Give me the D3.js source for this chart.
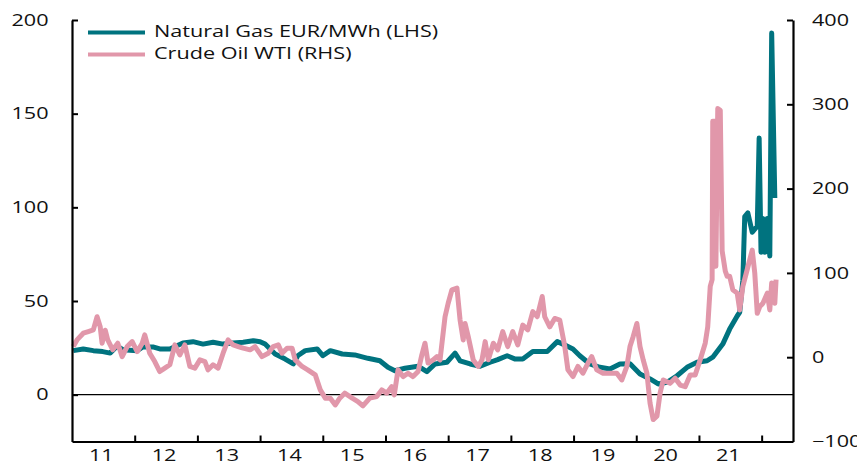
<!DOCTYPE html>
<html>
<head>
<meta charset="utf-8">
<script src="https://cdn.jsdelivr.net/npm/d3@7"></script>
<style>
  body { margin: 0; background: #fff; }
  svg text { font-family: "Open Sans", "Noto Sans", sans-serif; fill: #111; }
</style>
</head>
<body>
<div id="chart"></div>
<script>
// natural gas, EUR/MWh (left axis), time as decimal year
var gasYears = [2011.02, 2011.18, 2011.34, 2011.49, 2011.61, 2011.72, 2011.81, 2012.04, 2012.13, 2012.29,
  2012.40, 2012.56, 2012.77, 2012.93, 2013.09, 2013.25, 2013.41, 2013.57, 2013.73, 2013.89,
  2014.00, 2014.08, 2014.24, 2014.40, 2014.53, 2014.60, 2014.72, 2014.91, 2015.00, 2015.12,
  2015.31, 2015.51, 2015.72, 2015.91, 2016.04, 2016.15, 2016.31, 2016.52, 2016.66, 2016.79,
  2016.98, 2017.11, 2017.19, 2017.35, 2017.51, 2017.67, 2017.79, 2017.94, 2018.07, 2018.19,
  2018.35, 2018.58, 2018.74, 2018.83, 2018.99, 2019.10, 2019.26, 2019.42, 2019.58, 2019.74,
  2019.90, 2020.06, 2020.22, 2020.35, 2020.49, 2020.65, 2020.81, 2020.97, 2021.13, 2021.22,
  2021.38, 2021.49, 2021.61, 2021.65, 2021.70, 2021.73, 2021.78, 2021.85, 2021.93, 2021.96,
  2021.99, 2022.02, 2022.05, 2022.09, 2022.13, 2022.16, 2022.21];
var gasValues = [23.5, 24.4, 23.5, 23, 22.2, 26, 24, 23.5, 25.5, 25.5,
  24.4, 24.4, 27.6, 28.3, 27, 28, 27, 27.6, 28, 28.8,
  28.3, 27, 21.7, 19, 16.4, 20.8, 23.5, 24.4, 20.8, 23.5,
  21.7, 21.2, 19.4, 18.1, 14.6, 12.8, 14.1, 15.2, 12.3, 16.4,
  17.3, 22.2, 18.1, 16.4, 15.2, 17.3, 18.7, 20.8, 19, 19,
  23, 23, 28.3, 27, 24.4, 20.8, 16.4, 14.6, 13.7, 16.4,
  16.5, 11, 8.4, 5.7, 6.6, 10.1, 14.6, 17.3, 18.1, 20,
  27, 35, 42, 44, 61, 95, 97, 86.7, 90, 137,
  76, 94, 76, 94, 74, 193, 105];

// crude oil WTI (right axis)
var oilYears = [2011.02, 2011.08, 2011.18, 2011.26, 2011.34, 2011.40, 2011.45, 2011.48, 2011.53, 2011.57,
  2011.65, 2011.73, 2011.80, 2011.88, 2011.96, 2012.04, 2012.12, 2012.16, 2012.24, 2012.32,
  2012.40, 2012.48, 2012.56, 2012.64, 2012.72, 2012.80, 2012.88, 2012.96, 2013.04, 2013.12,
  2013.17, 2013.25, 2013.33, 2013.41, 2013.49, 2013.57, 2013.65, 2013.73, 2013.84, 2013.92,
  2014.03, 2014.13, 2014.21, 2014.29, 2014.35, 2014.43, 2014.51, 2014.56, 2014.67, 2014.76,
  2014.88, 2014.96, 2015.04, 2015.12, 2015.20, 2015.27, 2015.35, 2015.47, 2015.56, 2015.64,
  2015.75, 2015.86, 2015.94, 2016.02, 2016.10, 2016.14, 2016.20, 2016.28, 2016.36, 2016.44,
  2016.52, 2016.58, 2016.63, 2016.68, 2016.76, 2016.82, 2016.87, 2016.95, 2017.00, 2017.06,
  2017.14, 2017.19, 2017.24, 2017.27, 2017.32, 2017.40, 2017.48, 2017.54, 2017.59, 2017.64,
  2017.72, 2017.79, 2017.87, 2017.95, 2018.03, 2018.11, 2018.19, 2018.27, 2018.35, 2018.42,
  2018.50, 2018.54, 2018.62, 2018.70, 2018.78, 2018.86, 2018.91, 2018.99, 2019.07, 2019.15,
  2019.23, 2019.29, 2019.37, 2019.47, 2019.58, 2019.69, 2019.77, 2019.85, 2019.90, 2019.95,
  2020.01, 2020.06, 2020.11, 2020.17, 2020.22, 2020.27, 2020.33, 2020.38, 2020.43, 2020.54,
  2020.62, 2020.70, 2020.78, 2020.86, 2020.94, 2021.02, 2021.10, 2021.14, 2021.18, 2021.21,
  2021.22, 2021.26, 2021.27, 2021.30, 2021.34, 2021.37, 2021.42, 2021.45, 2021.49, 2021.54,
  2021.61, 2021.65, 2021.70, 2021.78, 2021.85, 2021.89, 2021.93, 2021.97, 2022.02, 2022.09,
  2022.13, 2022.16, 2022.21, 2022.23];
var oilValues = [12.6, 20.5, 28.5, 30.4, 32.4, 48, 36, 16.6, 32, 20.5,
  8.7, 16.6, 0.7, 12.6, 18.5, 6.6, 16.6, 26.5, 4.7, -5.2,
  -17, -13, -9, 14.6, 2.7, 14.6, -11, -13, -3.2, -5.2,
  -15, -9, -13, 4.7, 20.5, 14.6, 12.6, 10.7, 8.7, 12.6,
  0.7, 4.7, 12.6, 14.6, 4.7, 10.7, 10.7, -3.2, -11, -15,
  -21, -38.8, -48.6, -48.6, -56.6, -48.6, -42.7, -48.6, -52.6, -57.8,
  -48.6, -46.7, -38.8, -42.7, -34.9, -44.7, -15, -23, -19, -23,
  -17, 2.7, 16.6, -7, -3.2, 0.7, -3.2, 48, 64, 80,
  82, 44, 20.5, 40, 24.4, -3.2, -11, -3, 18.5, -3,
  16.6, 8.7, 30.4, 12.6, 30.4, 14.6, 38, 32.4, 54, 48,
  72, 48, 36, 46, 44, 12.6, -15, -23, -11, -19,
  -7, 0.7, -15, -19, -19, -19, -27, -11, 12.6, 24.4,
  40, 12.6, -3, -19, -54.6, -74, -70, -42.7, -27, -31,
  -25, -33, -35, -21, -21, -3, 16.6, 36, 84, 92,
  280, 280, 108, 295, 293, 126, 102, 96, 96, 80,
  76, 56, 84, 107, 127, 100, 52, 60, 64, 76,
  56, 88, 64, 92];

var leftTicks = [0, 50, 100, 150, 200];
var rightTicks = [-100, 0, 100, 200, 300, 400];
var yearLabels = ['11', '12', '13', '14', '15', '16', '17', '18', '19', '20', '21'];
var seriesNames = ['Natural Gas EUR/MWh (LHS)', 'Crude Oil WTI (RHS)'];
var seriesColors = ['#00737f', '#e197aa'];

var width = 857, height = 471;
var plotLeft = 72, plotRight = 793, plotTop = 20, plotBottom = 441.5;
var stretch = 1.32; // the original text is drawn wide

var svg = d3.select('#chart').append('svg')
  .attr('width', width)
  .attr('height', height);

var x = d3.scaleLinear().domain([2011, 2022.5]).range([plotLeft, plotRight]);
var yLeft = d3.scaleLinear().domain([-25, 200]).range([plotBottom, plotTop]);
var yRight = d3.scaleLinear().domain([-100, 400]).range([plotBottom, plotTop]);

function widen(sel) {
  sel.selectAll('text')
    .style('font-size', '16.4px')
    .attr('transform', 'scale(' + stretch + ',1)');
}

// zero line
svg.append('line')
  .attr('x1', plotLeft).attr('x2', plotRight)
  .attr('y1', yLeft(0)).attr('y2', yLeft(0))
  .attr('stroke', '#000')
  .attr('stroke-width', 1.2);

// series
var gasData = gasYears.map(function(t, i) { return [t, gasValues[i]]; });
var oilData = oilYears.map(function(t, i) { return [t, oilValues[i]]; });

svg.append('path')
  .datum(gasData)
  .attr('fill', 'none')
  .attr('stroke', seriesColors[0])
  .attr('stroke-width', 5)
  .attr('stroke-linejoin', 'round')
  .attr('d', d3.line().x(function(d) { return x(d[0]); }).y(function(d) { return yLeft(d[1]); }));

svg.append('path')
  .datum(oilData)
  .attr('fill', 'none')
  .attr('stroke', seriesColors[1])
  .attr('stroke-width', 5)
  .attr('stroke-linejoin', 'round')
  .attr('d', d3.line().x(function(d) { return x(d[0]); }).y(function(d) { return yRight(d[1]); }));

// axes
var leftAxis = svg.append('g')
  .attr('transform', 'translate(' + plotLeft + ',0)')
  .call(d3.axisLeft(yLeft).tickValues(leftTicks).tickSizeInner(-6).tickSizeOuter(0).tickPadding(17.8));
widen(leftAxis);

var rightAxis = svg.append('g')
  .attr('transform', 'translate(' + plotRight + ',0)')
  .call(d3.axisRight(yRight).tickValues(rightTicks).tickSizeInner(-6).tickSizeOuter(0).tickPadding(14.4));
widen(rightAxis);

var yearTicks = d3.range(2012, 2023);
svg.append('g')
  .attr('transform', 'translate(0,' + plotBottom + ')')
  .call(d3.axisBottom(x).tickValues(yearTicks).tickSizeInner(-6).tickSizeOuter(0).tickFormat(''));

var labelAxis = svg.append('g')
  .attr('transform', 'translate(0,' + plotBottom + ')')
  .call(d3.axisBottom(x).tickValues(d3.range(2011.46, 2022, 1)).tickSize(0).tickPadding(8)
    .tickFormat(function(d, i) { return yearLabels[i]; }));
labelAxis.select('.domain').remove();
widen(labelAxis);

svg.selectAll('.domain').attr('stroke', '#000').attr('stroke-width', 2.2);
svg.selectAll('.tick line').attr('stroke', '#000').attr('stroke-width', 2);

// legend
var legend = svg.append('g');
seriesNames.forEach(function(name, i) {
  var ly = 32.5 + i * 22;
  legend.append('line')
    .attr('x1', 88).attr('x2', 145)
    .attr('y1', ly).attr('y2', ly)
    .attr('stroke', seriesColors[i])
    .attr('stroke-width', 4);
  legend.append('text')
    .attr('transform', 'translate(154,' + (ly + 4.5) + ') scale(' + stretch + ',1)')
    .style('font-size', '16.4px')
    .text(name);
});
</script>
</body>
</html>
